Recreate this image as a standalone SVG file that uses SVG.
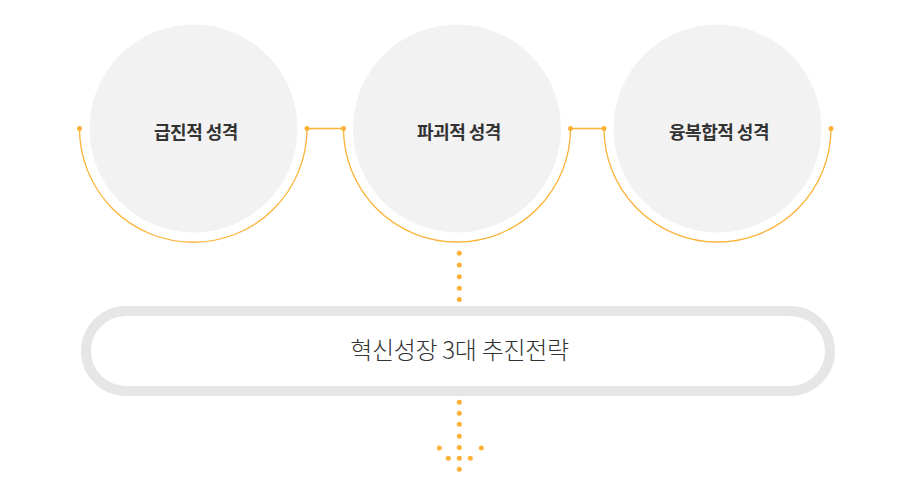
<svg xmlns="http://www.w3.org/2000/svg" width="914" height="484" viewBox="0 0 914 484">
<style>
.c{fill:#f2f2f2}
.arc{fill:none;stroke:#fbb236;stroke-width:1.3}
.d{fill:#fbb236}
.lbl{font-family:"Noto Sans CJK KR","Noto Sans",sans-serif;font-size:18px;font-weight:700;fill:#333;text-anchor:middle;letter-spacing:-0.5px}
.main{font-family:"Noto Sans CJK KR","Noto Sans",sans-serif;font-size:24px;font-weight:300;fill:#333;text-anchor:middle;letter-spacing:-0.3px}
</style>
<rect width="914" height="484" fill="#fff"/>
<g id="connectors">
<path class="arc" d="M79.5 128.5 A113.75 113.75 0 0 0 307 128.5 H343.5 A113.5 113.5 0 0 0 570.5 128.5 H604 A113.5 113.5 0 0 0 831 128.5"/>
<g class="d">
<circle cx="79.5" cy="128.5" r="2.5"/><circle cx="307" cy="128.5" r="2.5"/>
<circle cx="343.5" cy="128.5" r="2.5"/><circle cx="570.5" cy="128.5" r="2.5"/>
<circle cx="604" cy="128.5" r="2.5"/><circle cx="831" cy="128.5" r="2.5"/>
<circle cx="459.3" cy="253.3" r="2.5"/><circle cx="459.3" cy="265" r="2.5"/>
<circle cx="459.3" cy="276.8" r="2.5"/><circle cx="459.3" cy="288.3" r="2.5"/>
<circle cx="459.3" cy="299.5" r="2.5"/>
<circle cx="459.3" cy="402.3" r="2.5"/><circle cx="459.3" cy="413.3" r="2.5"/>
<circle cx="459.3" cy="424.3" r="2.5"/><circle cx="459.3" cy="436.3" r="2.5"/>
<circle cx="459.3" cy="447.5" r="2.5"/><circle cx="459.3" cy="458.3" r="2.5"/>
<circle cx="459.3" cy="469.3" r="2.5"/>
<circle cx="439.3" cy="448" r="2.5"/><circle cx="481.3" cy="448" r="2.5"/>
<circle cx="448.3" cy="458.3" r="2.5"/><circle cx="470.3" cy="458.3" r="2.5"/>
</g>
</g>
<g id="node1"><circle class="c" cx="193.5" cy="128.5" r="104"/><text class="lbl" x="196" y="139">급진적 성격</text></g>
<g id="node2"><circle class="c" cx="457" cy="128.5" r="104"/><text class="lbl" x="459" y="139">파괴적 성격</text></g>
<g id="node3"><circle class="c" cx="717.5" cy="128.5" r="104"/><text class="lbl" x="719" y="139">융복합적 성격</text></g>
<g id="node4"><rect x="86" y="311" width="744" height="80" rx="40" fill="#fff" stroke="#e6e6e6" stroke-width="10"/><text class="main" x="459.5" y="359">혁신성장 3대 추진전략</text></g>
</svg>
